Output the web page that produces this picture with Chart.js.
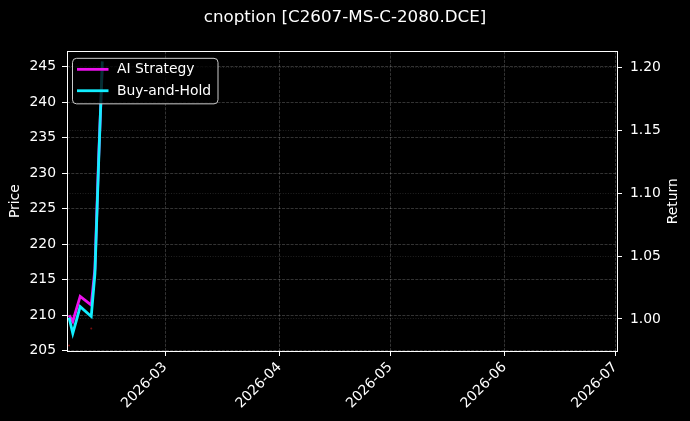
<!DOCTYPE html>
<html>
<head>
<meta charset="utf-8">
<script src="https://cdn.jsdelivr.net/npm/chart.js@4.4.1/dist/chart.umd.min.js"></script>
<style>
  html, body { margin: 0; padding: 0; background: #000; }
  #wrap { width: 690px; height: 421px; }
</style>
</head>
<body>
<div id="wrap"><canvas id="c" width="690" height="421"></canvas></div>
<script>
// ---- data ----
const titleText = 'cnoption [C2607-MS-C-2080.DCE]';
const dates = ['2026-02-03','2026-02-04','2026-02-05','2026-02-06','2026-02-09','2026-02-10','2026-02-11','2026-02-12'];
const aiStrategy = [1.003, 0.998, 1.008, 1.018, 1.011, 1.040, 1.128, 1.200];
const buyAndHold = [1.001, 0.9885, 0.999, 1.0098, 1.002, 1.036, 1.124, 1.205];
const markerDates = ['2026-02-03','2026-02-09'];
const markerPrices = [205.7, 208.1];
const xTickDates = ['2026-03-01','2026-04-01','2026-05-01','2026-06-01','2026-07-01'];
const xTickLabels = ['2026-03','2026-04','2026-05','2026-06','2026-07'];
const priceTicks = [205, 210, 215, 220, 225, 230, 235, 240, 245];
const returnTicks = [1.00, 1.05, 1.10, 1.15, 1.20];
const leftLabel = 'Price';
const rightLabel = 'Return';

const BASE = Date.UTC(2026, 1, 1);
function dayNum(s) {
  const p = s.split('-').map(Number);
  return (Date.UTC(p[0], p[1] - 1, p[2]) - BASE) / 86400000;
}
const pts = (ds, vs) => ds.map((d, i) => ({ x: dayNum(d), y: vs[i] }));

const FONT = 'DejaVu Sans';
const TXT = '#ffffff';

const framePlugin = {
  id: 'frame',
  beforeDraw(chart) {
    const ctx = chart.ctx;
    ctx.save();
    ctx.fillStyle = '#000';
    ctx.fillRect(0, 0, chart.width, chart.height);
    ctx.restore();
  },
  afterDraw(chart) {
    const ctx = chart.ctx, a = chart.chartArea;
    ctx.save();
    ctx.fillStyle = TXT;
    ctx.font = '13.9px "' + FONT + '"';
    ctx.textAlign = 'center';
    ctx.textBaseline = 'middle';
    ctx.translate(a.right + 56, (a.top + a.bottom) / 2);
    ctx.rotate(-Math.PI / 2);
    ctx.fillText(rightLabel, 0, 0);
    ctx.restore();
  },
  afterDatasetsDraw(chart) {
    const ctx = chart.ctx, a = chart.chartArea;
    ctx.save();
    ctx.strokeStyle = '#ffffff';
    ctx.lineWidth = 1;
    ctx.strokeRect(Math.round(a.left) + 0.5, Math.round(a.top) + 0.5, Math.round(a.right - a.left), Math.round(a.bottom - a.top));
    // legend
    const lx = a.left + 5.5, ly = a.top + 7, lw = 145.5, lh = 45.5, r = 4;
    ctx.beginPath();
    ctx.moveTo(lx + r, ly);
    ctx.lineTo(lx + lw - r, ly);
    ctx.quadraticCurveTo(lx + lw, ly, lx + lw, ly + r);
    ctx.lineTo(lx + lw, ly + lh - r);
    ctx.quadraticCurveTo(lx + lw, ly + lh, lx + lw - r, ly + lh);
    ctx.lineTo(lx + r, ly + lh);
    ctx.quadraticCurveTo(lx, ly + lh, lx, ly + lh - r);
    ctx.lineTo(lx, ly + r);
    ctx.quadraticCurveTo(lx, ly, lx + r, ly);
    ctx.closePath();
    ctx.fillStyle = 'rgba(0,0,0,0.8)';
    ctx.fill();
    ctx.strokeStyle = '#cccccc';
    ctx.lineWidth = 1;
    ctx.stroke();
    const items = chart.data.datasets.filter(d => d.inLegend);
    items.forEach((d, i) => {
      const y = ly + 11 + i * 21.4;
      ctx.beginPath();
      ctx.strokeStyle = d.borderColor;
      ctx.lineWidth = 2.8;
      ctx.moveTo(lx + 4.5, y);
      ctx.lineTo(lx + 36, y);
      ctx.stroke();
      ctx.fillStyle = TXT;
      ctx.font = '13.9px "' + FONT + '"';
      ctx.textBaseline = 'middle';
      ctx.textAlign = 'left';
      ctx.fillText(d.label, lx + 44.5, y + 0.5);
    });
    ctx.restore();
  }
};

const gridCommon = { lineWidth: 0.8, drawTicks: true, tickLength: 5, tickColor: '#ffffff', tickBorderDash: [], tickWidth: 1 };

new Chart(document.getElementById('c'), {
  type: 'line',
  data: {
    datasets: [
      {
        label: 'AI Strategy', inLegend: true,
        data: pts(dates, aiStrategy), yAxisID: 'yR',
        borderColor: '#ee11ee', borderWidth: 2.8, pointRadius: 0,
        tension: 0, order: 2
      },
      {
        label: 'Buy-and-Hold', inLegend: true,
        data: pts(dates, buyAndHold), yAxisID: 'yR',
        borderColor: '#11eeff', borderWidth: 2.8, pointRadius: 0,
        tension: 0, order: 1
      },
      {
        label: 'Trades', inLegend: false, type: 'scatter',
        data: pts(markerDates, markerPrices), yAxisID: 'y',
        showLine: false, pointRadius: 1, borderWidth: 0,
        backgroundColor: 'rgba(170,20,20,0.7)', borderColor: 'rgba(170,20,20,0.7)', order: 3
      }
    ]
  },
  options: {
    responsive: false,
    animation: false,
    devicePixelRatio: 1,
    layout: { padding: 0 },
    plugins: {
      legend: { display: false },
      tooltip: { enabled: false },
      title: {
        display: true, text: titleText, color: TXT,
        font: { family: FONT, size: 16.7, weight: 'normal', lineHeight: 1.2 },
        padding: { top: 8, bottom: 23.3 }
      }
    },
    scales: {
      x: {
        type: 'linear',
        min: 1.43, max: 150.5,
        afterBuildTicks: s => { s.ticks = xTickDates.map(d => ({ value: dayNum(d) })); },
        afterFit: s => { s.height = 70; },
        ticks: {
          color: TXT, font: { family: FONT, size: 13.9 },
          maxRotation: 45, minRotation: 45, padding: 3, autoSkip: false,
          callback: (v) => { const i = xTickDates.findIndex(d => dayNum(d) === v); return i >= 0 ? xTickLabels[i] : ''; }
        },
        grid: Object.assign({ color: 'rgba(255,255,255,0.25)' }, gridCommon),
        border: { display: false, dash: [3, 1.3] }
      },
      y: {
        position: 'left',
        min: 204.93, max: 247.17,
        afterBuildTicks: s => { s.ticks = priceTicks.map(v => ({ value: v })); },
        afterFit: s => { s.width = 67; },
        ticks: { color: TXT, font: { family: FONT, size: 13.9 }, padding: 6, callback: v => String(v) },
        grid: Object.assign({ color: 'rgba(255,255,255,0.25)' }, gridCommon),
        border: { display: false, dash: [3, 1.3] },
        title: { display: true, text: leftLabel, color: TXT, font: { family: FONT, size: 13.9 }, padding: { top: 7, bottom: 4 } }
      },
      yR: {
        position: 'right',
        min: 0.9745, max: 1.213,
        afterBuildTicks: s => { s.ticks = returnTicks.map(v => ({ value: v })); },
        afterFit: s => { s.width = 73; },
        ticks: { color: TXT, font: { family: FONT, size: 13.9 }, padding: 8, callback: v => v.toFixed(2) },
        grid: Object.assign({ color: 'rgba(255,255,255,0.17)' }, gridCommon),
        border: { display: false, dash: [1, 1.6] }
      }
    }
  },
  plugins: [framePlugin]
});
</script>
</body>
</html>
